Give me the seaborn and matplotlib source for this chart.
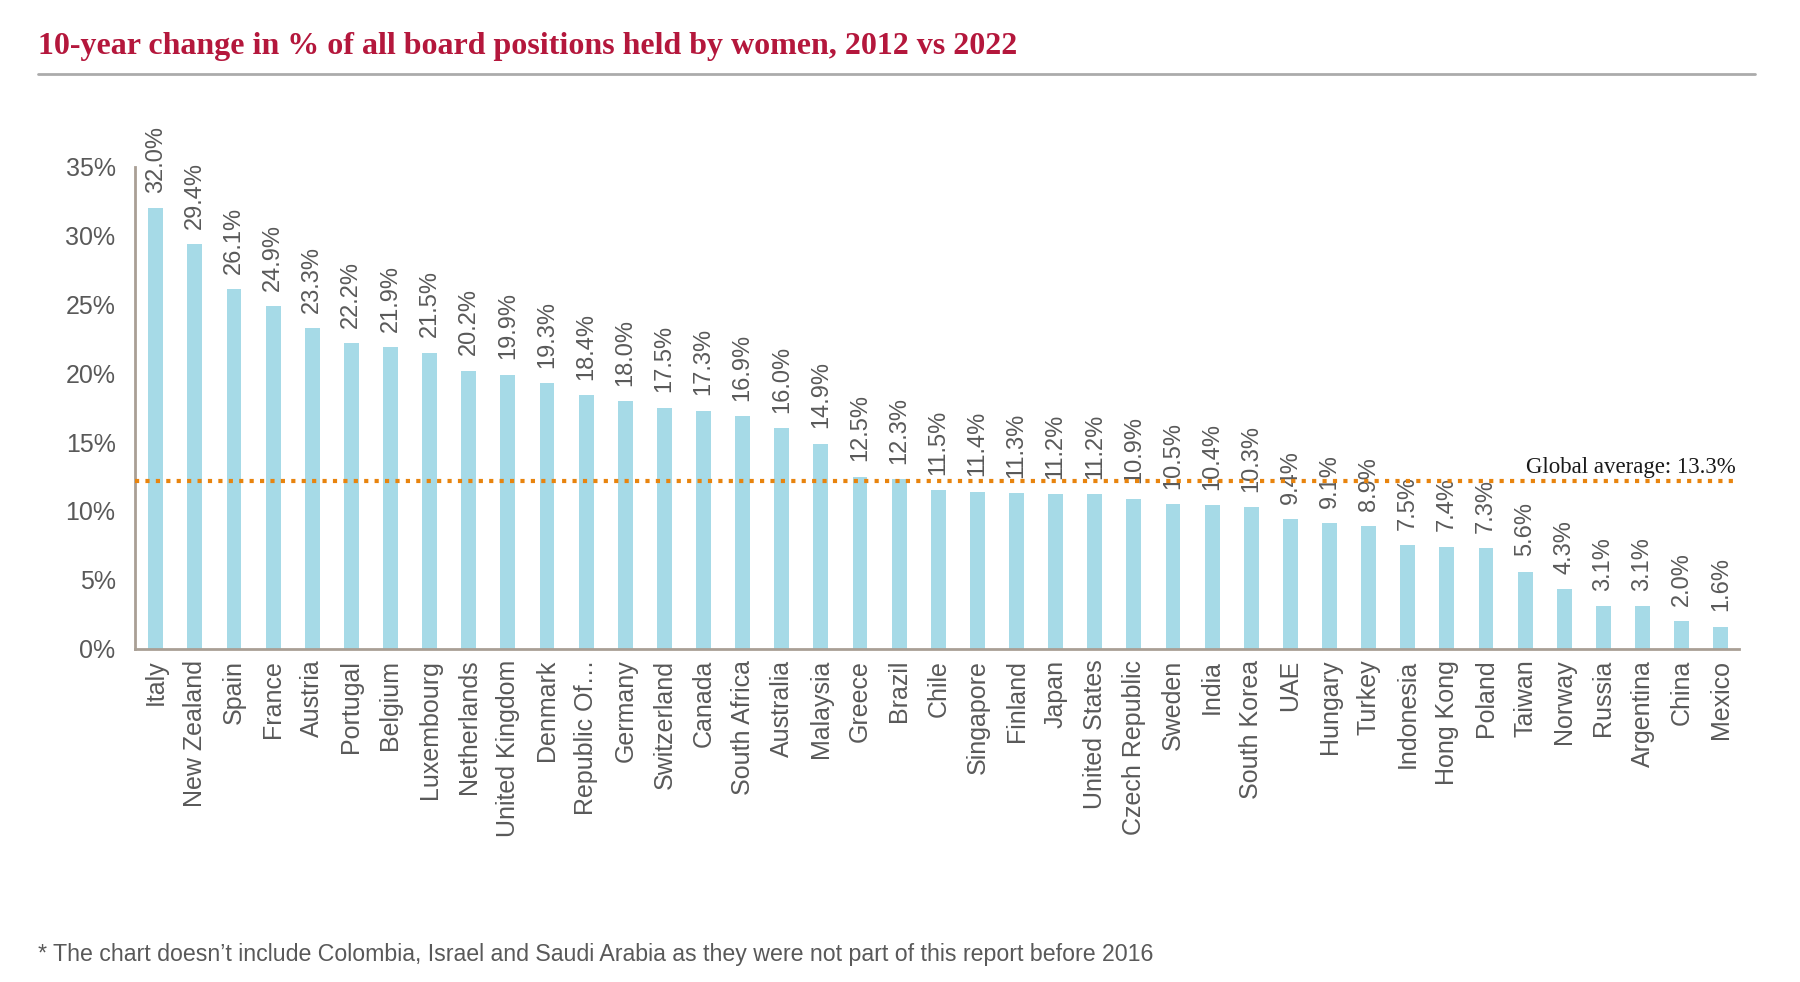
import matplotlib
matplotlib.use("Agg")
import matplotlib.pyplot as plt
import seaborn as sns
import pandas as pd
from matplotlib.lines import Line2D

countries = ["Italy", "New Zealand", "Spain", "France", "Austria", "Portugal", "Belgium",
             "Luxembourg", "Netherlands", "United Kingdom", "Denmark", "Republic Of\u2026",
             "Germany", "Switzerland", "Canada", "South Africa", "Australia", "Malaysia",
             "Greece", "Brazil", "Chile", "Singapore", "Finland", "Japan", "United States",
             "Czech Republic", "Sweden", "India", "South Korea", "UAE", "Hungary", "Turkey",
             "Indonesia", "Hong Kong", "Poland", "Taiwan", "Norway", "Russia", "Argentina",
             "China", "Mexico"]
values = [32.0, 29.4, 26.1, 24.9, 23.3, 22.2, 21.9, 21.5, 20.2, 19.9, 19.3, 18.4,
          18.0, 17.5, 17.3, 16.9, 16.0, 14.9, 12.5, 12.3, 11.5, 11.4, 11.3, 11.2, 11.2,
          10.9, 10.5, 10.4, 10.3, 9.4, 9.1, 8.9, 7.5, 7.4, 7.3, 5.6, 4.3, 3.1, 3.1,
          2.0, 1.6]
yticks = [0, 5, 10, 15, 20, 25, 30, 35]
avg_label = "Global average: 13.3%"
avg_line_pos = 12.2  # position of dotted line as drawn in the reference

title = "10-year change in % of all board positions held by women, 2012 vs 2022"
footnote = ("* The chart doesn\u2019t include Colombia, Israel and Saudi Arabia as they "
            "were not part of this report before 2016")

df = pd.DataFrame({"country": countries, "value": values})

sns.set_theme(style="white")
plt.rcParams["font.family"] = ["Liberation Sans", "DejaVu Sans"]

BAR = "#A6DAE7"
AXIS = "#A99F95"
TXT = "#595959"
ORANGE = "#E8840E"
CRIMSON = "#B4173C"

fig = plt.figure(figsize=(18, 9.82), dpi=100)
ax = fig.add_axes([0.075, 0.3395, 0.891, 0.4905])

sns.barplot(data=df, x="country", y="value", color=BAR, width=0.38,
            saturation=1, ax=ax, edgecolor="none")

ax.set_xlim(-0.53, len(countries) - 1 + 0.46)
ax.set_ylim(0, 35)
ax.set_yticks(yticks)
ax.set_yticklabels([f"{t}%" for t in yticks], fontsize=18, color=TXT)
ax.tick_params(axis="y", length=0, pad=14)
ax.tick_params(axis="x", length=0, pad=8)
ax.set_xticks(range(len(countries)))
ax.set_xticklabels(countries, rotation=90, fontsize=18, color=TXT, va="top")
ax.set_xlabel("")
ax.set_ylabel("")

for s in ["top", "right"]:
    ax.spines[s].set_visible(False)
for s in ["left", "bottom"]:
    ax.spines[s].set_color(AXIS)
    ax.spines[s].set_linewidth(2)

for i, v in enumerate(values):
    ax.annotate(f"{v:.1f}%", xy=(i, v), xytext=(0, 11), textcoords="offset points",
                rotation=90, ha="center", va="bottom", fontsize=17, color=TXT,
                annotation_clip=False)

ax.plot([-0.53, len(countries) - 1 + 0.3], [avg_line_pos, avg_line_pos],
        color=ORANGE, linewidth=3, linestyle=(0, (1, 1.5)),
        dash_capstyle="butt", clip_on=False, zorder=5)
ax.text(len(countries) - 1 + 0.38, avg_line_pos + 0.55, avg_label,
        ha="right", va="baseline", fontsize=16.5, color="#1a1a1a",
        family=["Liberation Serif", "DejaVu Serif"])

fig.text(0.021, 0.953, title, ha="left", va="center", fontsize=23,
         color=CRIMSON, fontweight="bold", family=["Liberation Serif", "DejaVu Serif"])
fig.add_artist(Line2D([0.021, 0.975], [0.925, 0.925], transform=fig.transFigure,
                      color="#ABABAB", linewidth=2))
fig.text(0.021, 0.0275, footnote, ha="left", va="center", fontsize=16.7, color=TXT)

fig.savefig("out.png", dpi=100)
